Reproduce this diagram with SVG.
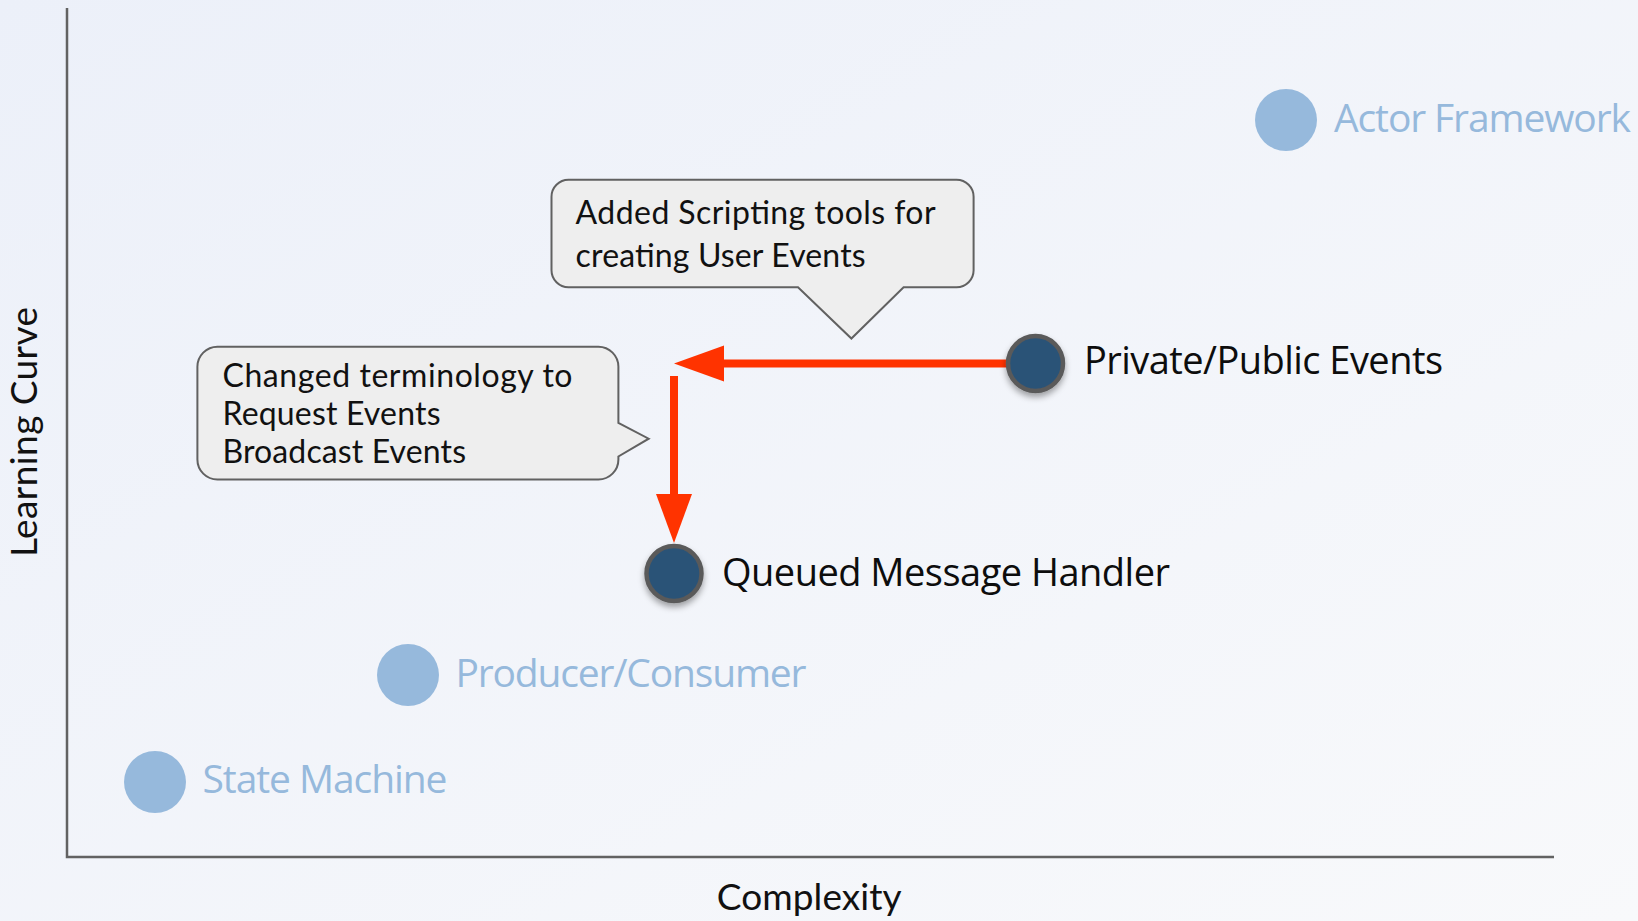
<svg xmlns="http://www.w3.org/2000/svg" width="1638" height="921" viewBox="0 0 1638 921">
  <style>
    .axis { stroke: #626262; stroke-width: 2.5; fill: none; }
    .axlbl { font-family: Lato, "Noto Sans", sans-serif; font-size: 37px; fill: #111111; }
    .callout { fill: #eeeeee; stroke: #616161; stroke-width: 2; }
    .ctext { font-family: Lato, "Noto Sans", sans-serif; font-size: 32px; fill: #111111; }
    .light { fill: #96b9dc; }
    .lightlbl { font-family: "Open Sans", "Noto Sans", sans-serif; font-size: 39px; fill: #96b9dc; }
    .dark { fill: #2b5377; stroke: #5a5a5a; stroke-width: 4.5; filter: url(#shadow); }
    .darklbl { font-family: "Open Sans", "Noto Sans", sans-serif; font-size: 38px; fill: #0d0d0d; }
    .conn { stroke: #ff3300; stroke-width: 8; fill: none; }
    .head { fill: #ff3300; }
  </style>
  <defs>
    <linearGradient id="bg" x1="0" y1="0" x2="1" y2="1">
      <stop offset="0" stop-color="#ecf0f9"/>
      <stop offset="1" stop-color="#f8f9fb"/>
    </linearGradient>
    <filter id="shadow" x="-50%" y="-50%" width="200%" height="200%">
      <feDropShadow dx="0" dy="4" stdDeviation="3" flood-color="#000000" flood-opacity="0.35"/>
    </filter>
  </defs>
  <rect x="0" y="0" width="1638" height="921" fill="url(#bg)"/>

  <g id="axes">
    <polyline class="axis" points="67,8 67,857 1554,857"/>
    <text class="axlbl" x="716.7" y="910" textLength="185">Complexity</text>
    <text class="axlbl" transform="translate(36.7,557) rotate(-90)" x="0" y="0" textLength="250">Learning Curve</text>
  </g>

  <g id="callout-scripting">
    <path class="callout" d="M568.5,179.7 H956.6 A17,17 0 0 1 973.6,196.7 V270.3 A17,17 0 0 1 956.6,287.3 H903.6 L851.4,338.5 L798,287.3 H568.5 A17,17 0 0 1 551.5,270.3 V196.7 A17,17 0 0 1 568.5,179.7 Z"/>
    <text class="ctext" x="575.6" y="224" textLength="360">Added Scripting tools for</text>
    <text class="ctext" x="575.6" y="266.5" textLength="290">creating User Events</text>
  </g>

  <g id="callout-terminology">
    <path class="callout" d="M217.4,346.8 H598.4 A20,20 0 0 1 618.4,366.8 V423 L648.7,438.7 L618.4,456.5 V459.5 A20,20 0 0 1 598.4,479.5 H217.4 A20,20 0 0 1 197.4,459.5 V366.8 A20,20 0 0 1 217.4,346.8 Z"/>
    <text class="ctext" x="222.5" y="386.5" textLength="350">Changed terminology to</text>
    <text class="ctext" x="222.5" y="425" textLength="218">Request Events</text>
    <text class="ctext" x="222.5" y="463" textLength="243.5">Broadcast Events</text>
  </g>

  <g id="connectors">
    <line class="conn" x1="1010" y1="363.5" x2="720" y2="363.5"/>
    <polygon class="head" points="674,363.5 724,345.5 724,381.5"/>
    <line class="conn" x1="674" y1="376" x2="674" y2="498"/>
    <polygon class="head" points="656,494 692,494 674,543"/>
  </g>

  <g id="node-actor-framework">
    <circle class="light" cx="1286" cy="120" r="31"/>
    <text class="lightlbl" x="1334" y="132" textLength="297">Actor Framework</text>
  </g>

  <g id="node-private-public-events">
    <circle class="dark" cx="1035.5" cy="363.5" r="27.5"/>
    <text class="darklbl" x="1084" y="374" textLength="359">Private/Public Events</text>
  </g>

  <g id="node-queued-message-handler">
    <circle class="dark" cx="674" cy="573.5" r="27.5"/>
    <text class="darklbl" x="722" y="585.5" textLength="448">Queued Message Handler</text>
  </g>

  <g id="node-producer-consumer">
    <circle class="light" cx="408" cy="675" r="31"/>
    <text class="lightlbl" x="455.5" y="687" textLength="351">Producer/Consumer</text>
  </g>

  <g id="node-state-machine">
    <circle class="light" cx="155" cy="782" r="31"/>
    <text class="lightlbl" x="202.5" y="793" textLength="245">State Machine</text>
  </g>
</svg>
